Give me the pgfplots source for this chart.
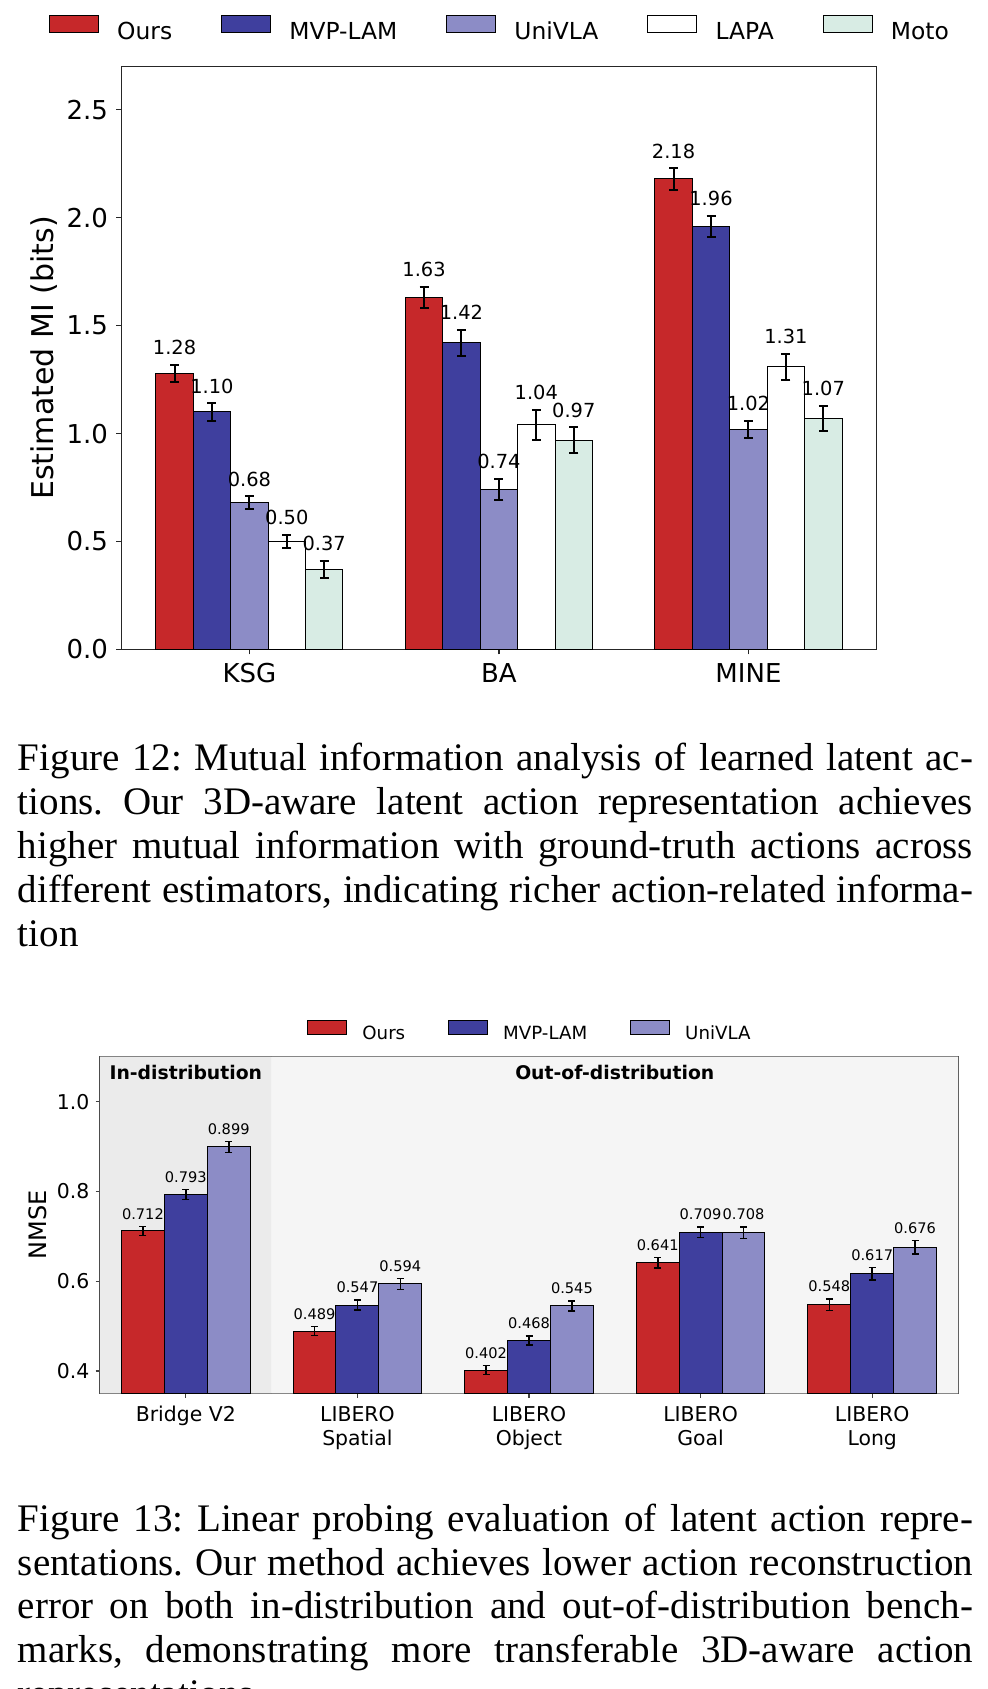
\documentclass[border=0pt]{standalone}
\usepackage{fontspec}
\setmainfont{Liberation Serif}
\newfontfamily\djv{DejaVu Sans}
\usepackage{pgfplots}
\pgfplotsset{compat=1.18}
\frenchspacing
\definecolor{cours}{RGB}{198,40,42}
\definecolor{cmvp}{RGB}{63,63,158}
\definecolor{cuni}{RGB}{140,140,198}
\definecolor{clapa}{RGB}{255,255,255}
\definecolor{cmoto}{RGB}{216,236,228}
\definecolor{bgin}{RGB}{235,235,235}
\definecolor{bgout}{RGB}{245,245,245}
\pgfplotsset{
  ebtop/.style={error bars/y dir=both, error bars/y explicit,
    error bars/error bar style={line width=1pt, black},
    error bars/error mark options={rotate=90, line width=1pt, mark size=2.25pt, black}},
  ebbot/.style={error bars/y dir=both, error bars/y explicit,
    error bars/error bar style={line width=0.8pt, black},
    error bars/error mark options={rotate=90, line width=0.8pt, mark size=1.75pt, black}},
}
\newcommand{\tl}[3]{\node[anchor=base, inner sep=0pt, yshift=5pt, font=\djv\fontsize{9.7}{11}\selectfont] at (axis cs:#1,#2) {#3};}
\newcommand{\bl}[3]{\node[anchor=base, inner sep=0pt, yshift=3.65pt, font=\djv\fontsize{7.3}{9}\selectfont] at (axis cs:#1,#2) {#3};}
\newcommand{\capline}[2]{\node[anchor=base west, inner sep=0pt, font=\fontsize{19.5}{21.9}\selectfont] at (8.8pt,#1) {\makebox[477.5pt][s]{#2}};}
\newcommand{\caplast}[2]{\node[anchor=base west, inner sep=0pt, font=\fontsize{19.5}{21.9}\selectfont] at (8.8pt,#1) {#2};}
\begin{document}
\begin{tikzpicture}
\path[use as bounding box] (0,0) rectangle (493.5pt,844.5pt);
\clip (0,0) rectangle (493.5pt,844.5pt);

% ---------------- Figure 12 ----------------
\begin{axis}[
  at={(60.75pt,519.8pt)}, anchor=south west,
  scale only axis, width=377.4pt, height=291.35pt,
  ybar=0pt, bar width=0.15,
  xmin=-0.5125, xmax=2.5125, ymin=0, ymax=2.70,
  xtick={0,1,2}, xticklabels={KSG,BA,MINE},
  ytick={0,0.5,1,1.5,2,2.5}, yticklabels={0.0,0.5,1.0,1.5,2.0,2.5},
  tick align=outside, tick pos=left, major tick length=2.5pt,
  tick style={black!85, line width=0.6pt},
  axis line style={black!85, line width=0.6pt},
  tick label style={font=\djv\fontsize{13}{15}\selectfont, inner sep=0pt},
  xticklabel style={yshift=-4.3pt},
  yticklabel style={xshift=-4.1pt},
  ylabel={Estimated MI (bits)},
  ylabel style={font=\djv\fontsize{15}{18}\selectfont, at={(axis description cs:-0.0904,0.5)}, anchor=base, inner sep=0pt},
  legend columns=5,
  legend style={at={(0.5,1.065)}, anchor=center, draw=none, fill=none, inner sep=0pt, outer sep=0pt,
    font=\djv\fontsize{11.7}{14}\selectfont, nodes={inner sep=0pt}, column sep=0pt,
    /tikz/every odd column/.append style={column sep=9.15pt},
    /tikz/every even column/.append style={column sep=24.4pt}},
  legend image code/.code={\draw[#1, line width=0.5pt] (0pt,0pt) rectangle (24.5pt,8.5pt);},
]
\addplot[ebtop, bar shift=-0.3, fill=cours, draw=black, line width=0.5pt] coordinates {(0,1.28) +- (0,0.04) (1,1.63) +- (0,0.05) (2,2.18) +- (0,0.05)};
\addlegendentry{Ours}
\addplot[ebtop, bar shift=-0.15, fill=cmvp, draw=black, line width=0.5pt] coordinates {(0,1.10) +- (0,0.04) (1,1.42) +- (0,0.06) (2,1.96) +- (0,0.05)};
\addlegendentry{MVP-LAM}
\addplot[ebtop, bar shift=0, fill=cuni, draw=black, line width=0.5pt] coordinates {(0,0.68) +- (0,0.03) (1,0.74) +- (0,0.05) (2,1.02) +- (0,0.04)};
\addlegendentry{UniVLA}
\addplot[ebtop, bar shift=0.15, fill=clapa, draw=black, line width=0.5pt] coordinates {(0,0.50) +- (0,0.03) (1,1.04) +- (0,0.07) (2,1.31) +- (0,0.06)};
\addlegendentry{LAPA}
\addplot[ebtop, bar shift=0.3, fill=cmoto, draw=black, line width=0.5pt] coordinates {(0,0.37) +- (0,0.04) (1,0.97) +- (0,0.06) (2,1.07) +- (0,0.06)};
\addlegendentry{Moto}
\tl{-0.3}{1.32}{1.28}\tl{-0.15}{1.14}{1.10}\tl{0}{0.71}{0.68}\tl{0.15}{0.53}{0.50}\tl{0.3}{0.41}{0.37}
\tl{0.7}{1.68}{1.63}\tl{0.85}{1.48}{1.42}\tl{1}{0.79}{0.74}\tl{1.15}{1.11}{1.04}\tl{1.3}{1.03}{0.97}
\tl{1.7}{2.23}{2.18}\tl{1.85}{2.01}{1.96}\tl{2}{1.06}{1.02}\tl{2.15}{1.37}{1.31}\tl{2.3}{1.13}{1.07}
\end{axis}

% ---------------- Figure 13 ----------------
\begin{axis}[
  at={(50pt,147.75pt)}, anchor=south west,
  scale only axis, width=429pt, height=168.4pt,
  ybar=0pt, bar width=0.25,
  xmin=-0.5, xmax=4.5, ymin=0.35, ymax=1.10,
  xtick={0,1,2,3,4},
  xticklabels={Bridge V2,{LIBERO\\Spatial},{LIBERO\\Object},{LIBERO\\Goal},{LIBERO\\Long}},
  ytick={0.4,0.6,0.8,1.0}, yticklabels={0.4,0.6,0.8,1.0},
  tick align=outside, tick pos=left, major tick length=2.2pt,
  tick style={black!75, line width=0.6pt},
  axis line style={black!70, line width=0.8pt},
  tick label style={font=\djv\fontsize{10.2}{12}\selectfont, inner sep=0pt},
  xticklabel style={align=center, yshift=-4pt},
  yticklabel style={xshift=-2.9pt},
  ylabel={NMSE},
  ylabel style={font=\djv\fontsize{12}{14}\selectfont, at={(axis description cs:-0.0621,0.5)}, anchor=base, inner sep=0pt},
  legend columns=3,
  legend style={at={(0.5,1.0763)}, anchor=center, draw=none, fill=none, inner sep=0pt, outer sep=0pt,
    font=\djv\fontsize{9.1}{11}\selectfont, nodes={inner sep=0pt}, column sep=0pt,
    /tikz/every odd column/.append style={column sep=7.5pt},
    /tikz/every even column/.append style={column sep=21.5pt}},
  legend image code/.code={\draw[#1, line width=0.5pt] (0pt,0pt) rectangle (19.5pt,7pt);},
]
\addplot[sharp plot, forget plot, fill=bgin, draw=none] coordinates {(-0.5,0.35) (-0.5,1.10) (0.5,1.10) (0.5,0.35) (-0.5,0.35)};
\addplot[sharp plot, forget plot, fill=bgout, draw=none] coordinates {(0.5,0.35) (0.5,1.10) (4.5,1.10) (4.5,0.35) (0.5,0.35)};
\addplot[ebbot, bar shift=-0.25, fill=cours, draw=black, line width=0.5pt] coordinates {(0,0.712) +- (0,0.010) (1,0.489) +- (0,0.010) (2,0.402) +- (0,0.010) (3,0.641) +- (0,0.012) (4,0.548) +- (0,0.013)};
\addlegendentry{Ours}
\addplot[ebbot, bar shift=0, fill=cmvp, draw=black, line width=0.5pt] coordinates {(0,0.793) +- (0,0.011) (1,0.547) +- (0,0.011) (2,0.468) +- (0,0.010) (3,0.709) +- (0,0.012) (4,0.617) +- (0,0.014)};
\addlegendentry{MVP-LAM}
\addplot[ebbot, bar shift=0.25, fill=cuni, draw=black, line width=0.5pt] coordinates {(0,0.899) +- (0,0.012) (1,0.594) +- (0,0.012) (2,0.545) +- (0,0.011) (3,0.708) +- (0,0.013) (4,0.676) +- (0,0.015)};
\addlegendentry{UniVLA}
\bl{-0.25}{0.722}{0.712}\bl{0}{0.804}{0.793}\bl{0.25}{0.911}{0.899}
\bl{0.75}{0.499}{0.489}\bl{1}{0.558}{0.547}\bl{1.25}{0.606}{0.594}
\bl{1.75}{0.412}{0.402}\bl{2}{0.478}{0.468}\bl{2.25}{0.556}{0.545}
\bl{2.75}{0.653}{0.641}\bl{3}{0.721}{0.709}\bl{3.25}{0.721}{0.708}
\bl{3.75}{0.561}{0.548}\bl{4}{0.631}{0.617}\bl{4.25}{0.691}{0.676}
\node[anchor=base, inner sep=0pt, font=\djv\bfseries\fontsize{9.4}{11}\selectfont] at (axis cs:0,1.0482) {In-distribution};
\node[anchor=base, inner sep=0pt, font=\djv\bfseries\fontsize{9.4}{11}\selectfont] at (axis cs:2.5,1.0482) {Out-of-distribution};
\end{axis}

% ---------------- Captions ----------------
\capline{459.0pt}{Figure 12: Mutual information analysis of learned latent ac-}
\capline{437.05pt}{tions. Our 3D-aware latent action representation achieves}
\capline{415.1pt}{higher mutual information with ground-truth actions across}
\capline{393.15pt}{different estimators, indicating richer action-related informa-}
\caplast{371.2pt}{tion}
\capline{78.65pt}{Figure 13: Linear probing evaluation of latent action repre-}
\capline{56.85pt}{sentations. Our method achieves lower action reconstruction}
\capline{35.05pt}{error on both in-distribution and out-of-distribution bench-}
\capline{13.25pt}{marks, demonstrating more transferable 3D-aware action}
\caplast{-8.55pt}{representations.}
\end{tikzpicture}
\end{document}
